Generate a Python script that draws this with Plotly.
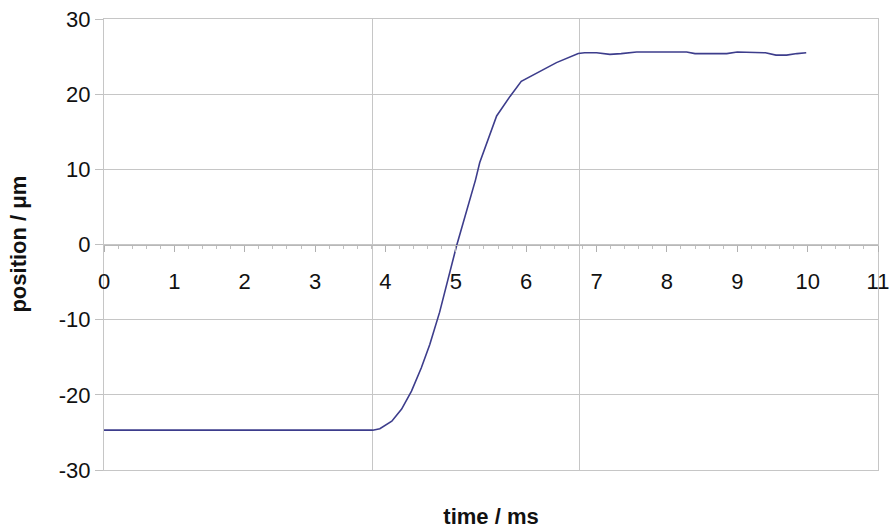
import plotly.graph_objects as go

time_ms = [0, 0.5, 1, 1.5, 2, 2.5, 3, 3.5, 3.82, 3.92, 4.09, 4.23, 4.37, 4.51, 4.63,
           4.77, 5.01, 5.28, 5.34, 5.58, 5.77, 5.93, 6.15, 6.43, 6.74, 6.83, 7.0,
           7.19, 7.35, 7.57, 7.8, 8.0, 8.28, 8.4, 8.6, 8.85, 9.0, 9.27, 9.4, 9.55,
           9.7, 9.85, 9.98]
position_um = [-24.7, -24.7, -24.7, -24.7, -24.7, -24.7, -24.7, -24.7, -24.7, -24.5,
               -23.5, -21.9, -19.5, -16.4, -13.3, -9.0, -0.2, 8.6, 10.9, 17.1, 19.7,
               21.7, 22.8, 24.2, 25.4, 25.5, 25.5, 25.3, 25.4, 25.6, 25.6, 25.6, 25.6,
               25.4, 25.4, 25.4, 25.6, 25.6, 25.5, 25.2, 25.2, 25.4, 25.5]

x_ticks = [0, 1, 2, 3, 4, 5, 6, 7, 8, 9, 10, 11]
x_grid = [3.82, 6.76]
y_ticks = [-30, -20, -10, 0, 10, 20, 30]
y_labels = ["-30", "-20", "-10", "0", "10", "20", "30"]

FONT = "Liberation Sans, Arial, Helvetica, sans-serif"
GRID = "#c6c6c6"

fig = go.Figure()
fig.add_trace(go.Scatter(x=time_ms, y=position_um, mode="lines",
                         line=dict(color="#3d3d8c", width=1.6),
                         showlegend=False, hoverinfo="skip"))

fig.update_layout(
    width=891, height=530,
    margin=dict(l=104, r=13, t=19, b=60),
    paper_bgcolor="white", plot_bgcolor="white",
    font=dict(family=FONT, size=22, color="#111111"),
    xaxis=dict(range=[0, 11], tickvals=x_grid, showticklabels=False, ticks="",
               showgrid=True, gridcolor=GRID, gridwidth=1, zeroline=False,
               showline=True, mirror=True, linecolor=GRID, linewidth=1,
               automargin=False,
               title=dict(text="<b>time / ms</b>", font=dict(size=22), standoff=38)),
    xaxis2=dict(range=[0, 11], overlaying="x", anchor="free", position=0.5,
                side="bottom", tickvals=x_ticks, ticks="outside", ticklen=6,
                tickcolor="#b0b0b0", showline=True, linecolor="#b8b8b8", linewidth=1,
                showgrid=False, zeroline=False, ticklabelstandoff=11, automargin=False,
                ticklabeloverflow="allow",
                minor=dict(dtick=0.2, ticks="outside", ticklen=3, tickcolor="#c0c0c0")),
    yaxis=dict(range=[-30, 30], tickvals=y_ticks, ticktext=y_labels, ticks="outside",
               ticklen=8, tickcolor="#c0c0c0", showgrid=True, gridcolor=GRID, gridwidth=1,
               zeroline=False, showline=True, mirror=True, linecolor=GRID, linewidth=1,
               automargin=False, ticklabeloverflow="allow"),
    annotations=[dict(text="<b>position / \u03bcm</b>", xref="paper", yref="paper",
                      x=-0.111, y=0.5, xanchor="center", yanchor="middle",
                      textangle=-90, showarrow=False, font=dict(size=22))],
)
# invisible trace to bind xaxis2
fig.add_trace(go.Scatter(x=[0, 11], y=[None, None], xaxis="x2", yaxis="y",
                         mode="lines", showlegend=False, hoverinfo="skip"))

fig.write_html("out.html",
               config={"displayModeBar": False},
               post_script="document.body.style.margin='0';"
                           "document.documentElement.style.overflow='hidden';")
